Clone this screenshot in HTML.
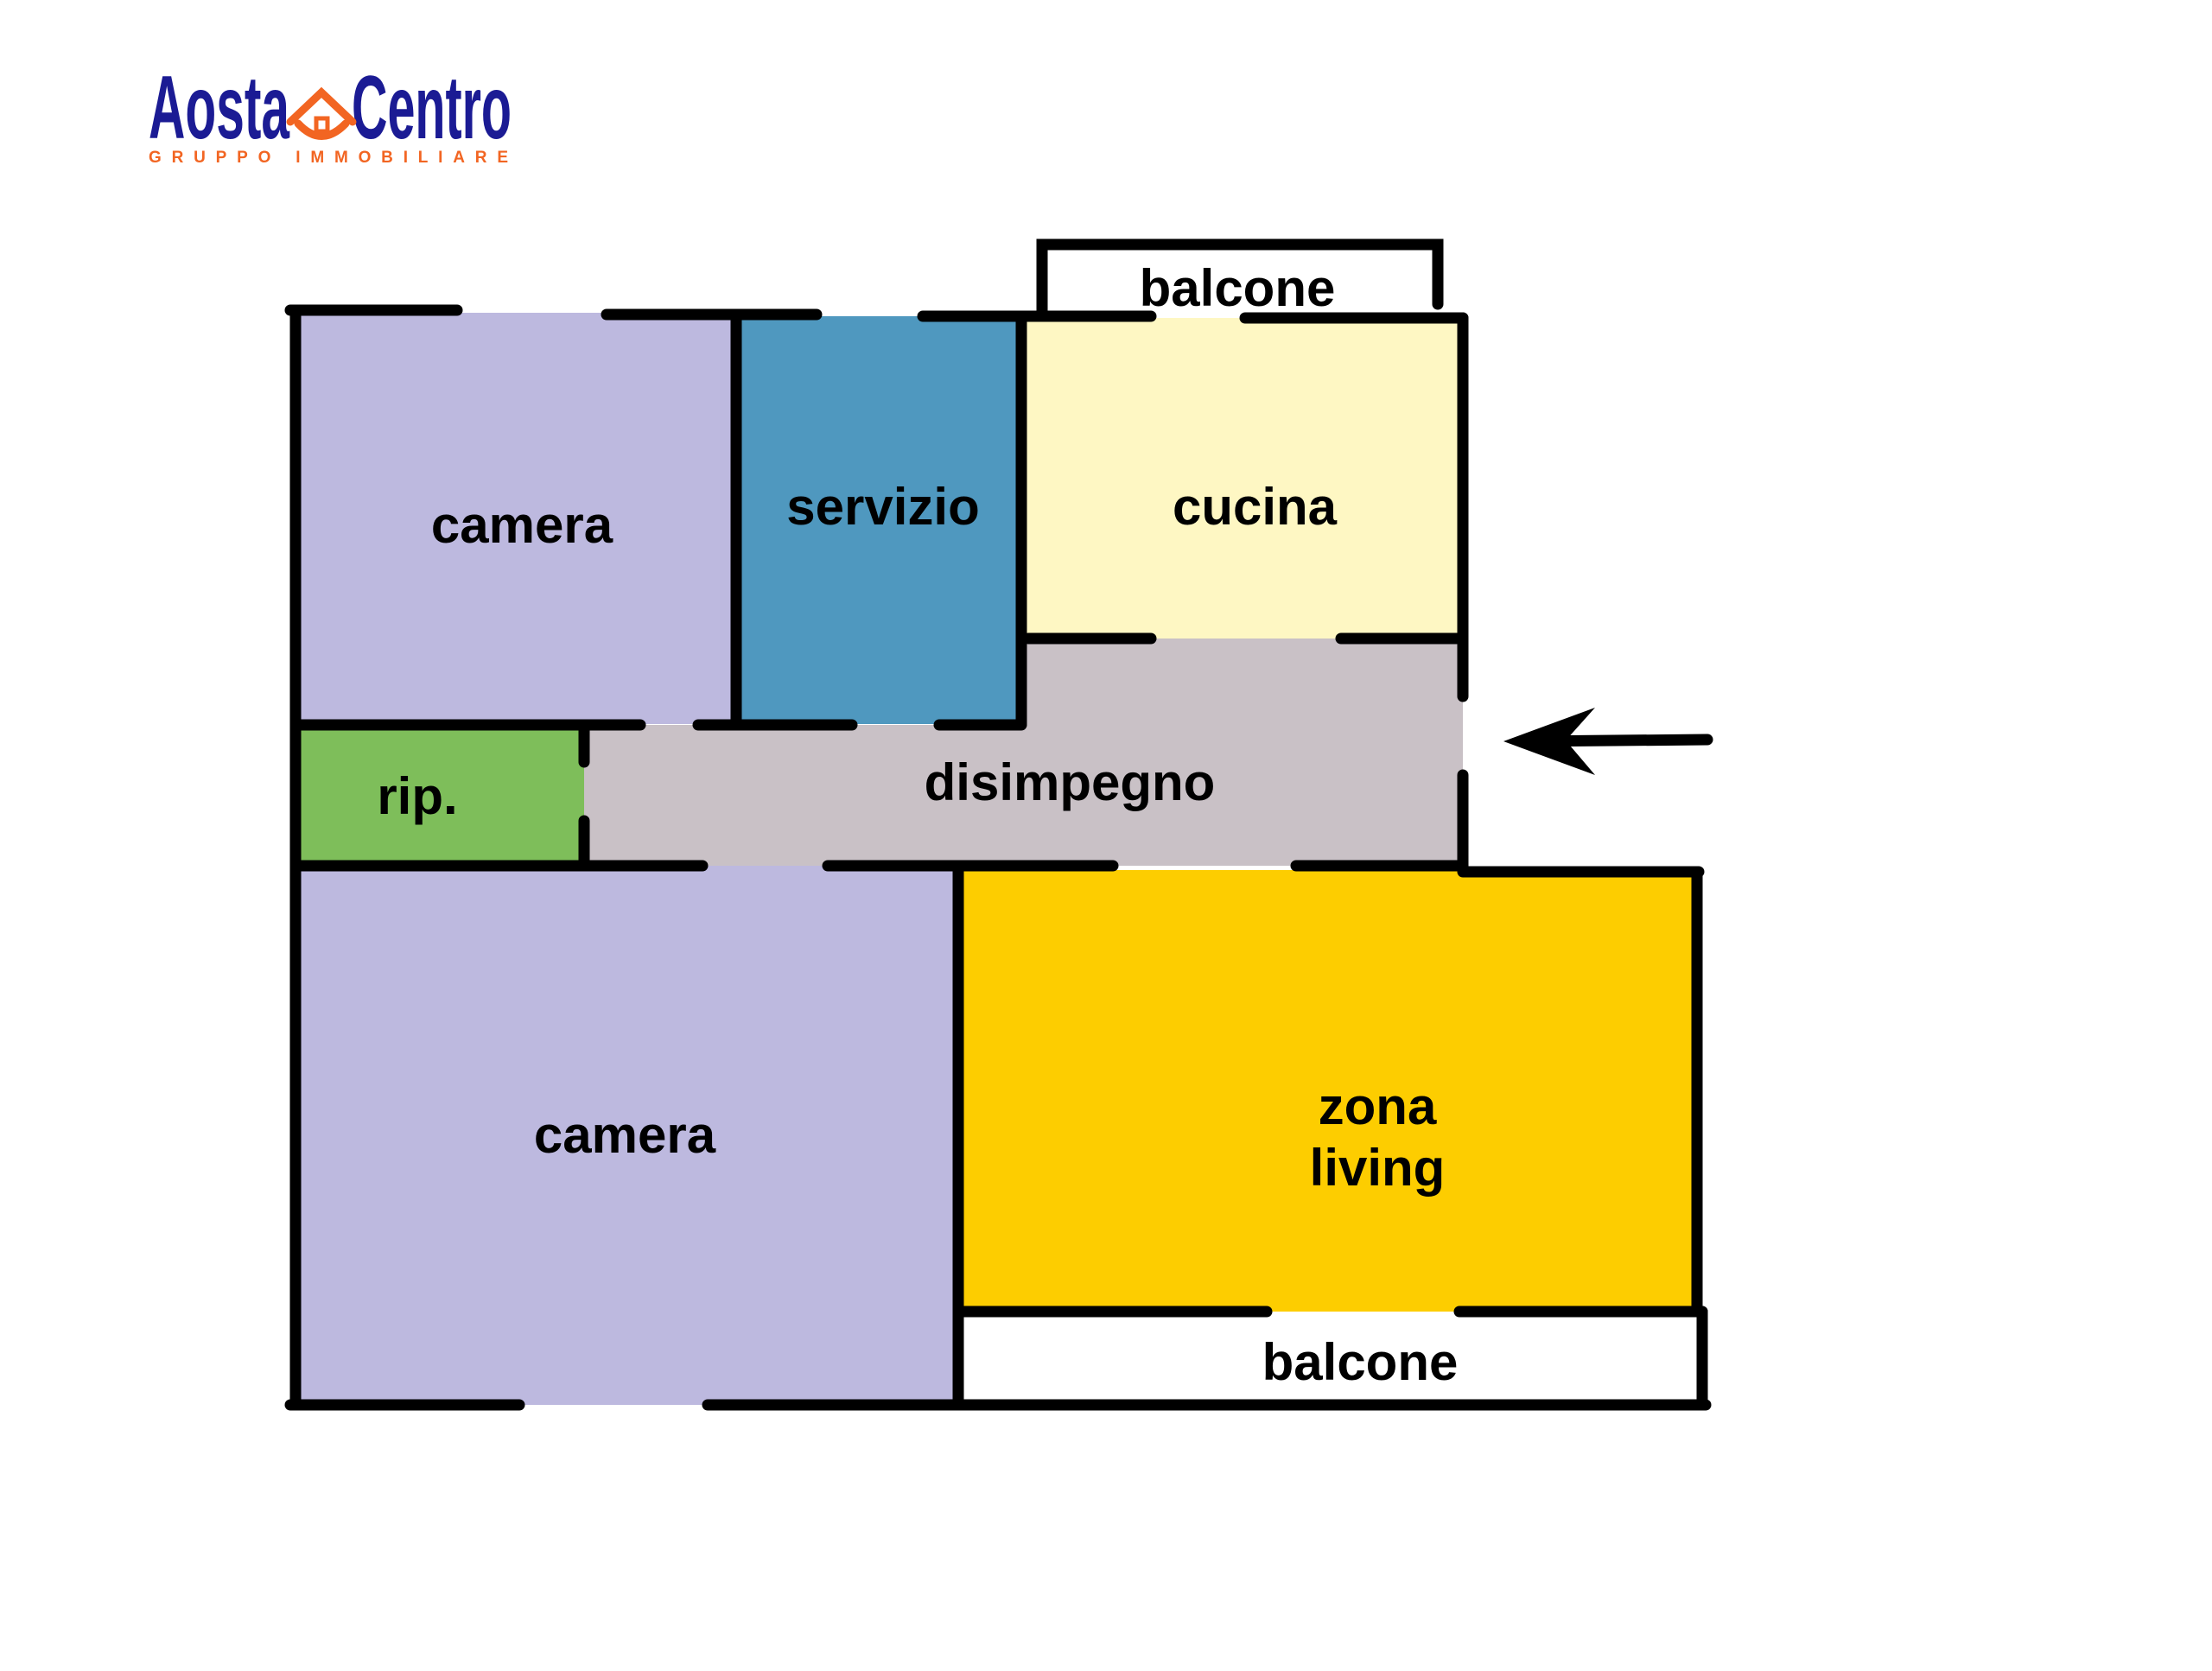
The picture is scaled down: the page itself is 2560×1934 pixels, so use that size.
<!DOCTYPE html>
<html><head><meta charset="utf-8"><style>
html,body{margin:0;padding:0;background:#fff}
svg{display:block}
text{font-family:"Liberation Sans",sans-serif;font-weight:bold}
</style></head><body>
<svg width="2560" height="1934" viewBox="0 0 2560 1934" xmlns="http://www.w3.org/2000/svg">
<rect x="342" y="362" width="512" height="476" fill="#BDB9DF"/>
<rect x="852" y="366" width="330" height="472" fill="#4F98BF"/>
<rect x="1182" y="368" width="511" height="371" fill="#FEF7C3"/>
<rect x="1182" y="739" width="511" height="263" fill="#C9C1C6"/>
<rect x="676" y="839" width="510" height="163" fill="#C9C1C6"/>
<rect x="342" y="839" width="334" height="163" fill="#7EBE5A"/>
<rect x="342" y="1002" width="767" height="624" fill="#BDB9DF"/>
<rect x="1109" y="1007" width="859" height="511" fill="#FDCD00"/>
<g stroke="#000" stroke-width="13" stroke-linecap="round" fill="none">
<line x1="342" y1="359" x2="342" y2="1626"/>
<line x1="336" y1="359" x2="529" y2="359"/>
<line x1="702" y1="364" x2="945" y2="364"/>
<line x1="1068" y1="366" x2="1332" y2="366"/>
<line x1="1441" y1="368" x2="1693" y2="368"/>
<polyline points="1206,366 1206,283 1664,283 1664,352"/>
<line x1="852" y1="364" x2="852" y2="838"/>
<line x1="1182" y1="366" x2="1182" y2="838"/>
<line x1="1693" y1="368" x2="1693" y2="806"/>
<line x1="1693" y1="897" x2="1693" y2="1005"/>
<line x1="1190" y1="739" x2="1332" y2="739"/>
<line x1="1552" y1="739" x2="1690" y2="739"/>
<line x1="342" y1="839" x2="741" y2="839"/>
<line x1="808" y1="839" x2="986" y2="839"/>
<line x1="1087" y1="839" x2="1182" y2="839"/>
<line x1="676" y1="845" x2="676" y2="882"/>
<line x1="676" y1="950" x2="676" y2="1000"/>
<line x1="342" y1="1002" x2="813" y2="1002"/>
<line x1="958" y1="1002" x2="1288" y2="1002"/>
<line x1="1500" y1="1002" x2="1693" y2="1002"/>
<line x1="1693" y1="1009" x2="1966" y2="1009"/>
<line x1="1109" y1="1002" x2="1109" y2="1626"/>
<line x1="1964" y1="1009" x2="1964" y2="1518"/>
<line x1="1109" y1="1518" x2="1466" y2="1518"/>
<line x1="1689" y1="1518" x2="1970" y2="1518"/>
<line x1="1970" y1="1518" x2="1970" y2="1626"/>
<line x1="336" y1="1626" x2="601" y2="1626"/>
<line x1="819" y1="1626" x2="1974" y2="1626"/>
<line x1="1976" y1="856" x2="1770" y2="858"/>
</g>
<polygon points="1740,858 1846,819 1812,857 1846,897" fill="#000"/>
<g font-size="60" text-anchor="middle" style="fill:#000">
<text x="604" y="628">camera</text>
<text x="1022" y="607">servizio</text>
<text x="1452" y="607">cucina</text>
<text x="1238" y="926">disimpegno</text>
<text x="483" y="942">rip.</text>
<text x="723" y="1334">camera</text>
<text x="1594" y="1301">zona</text>
<text x="1594" y="1372">living</text>
<text x="1432" y="354">balcone</text>
<text x="1574" y="1597">balcone</text>
</g>
<text x="172" y="160" font-size="104" style="fill:#1B1B94" textLength="163" lengthAdjust="spacingAndGlyphs">Aosta</text>
<text x="407" y="160" font-size="104" style="fill:#1B1B94" textLength="185" lengthAdjust="spacingAndGlyphs">Centro</text>
<g stroke="#F26522" stroke-width="9" fill="none" stroke-linecap="round">
<polyline points="336,141 372,107 408,141"/>
<path d="M345,143 Q372,172 400,143"/>
<rect x="366" y="137" width="13" height="15" stroke-width="5"/>
</g>
<text x="172" y="188" font-size="19" style="fill:#F26522" textLength="416" lengthAdjust="spacing">GRUPPO  IMMOBILIARE</text>
</svg>
</body></html>
